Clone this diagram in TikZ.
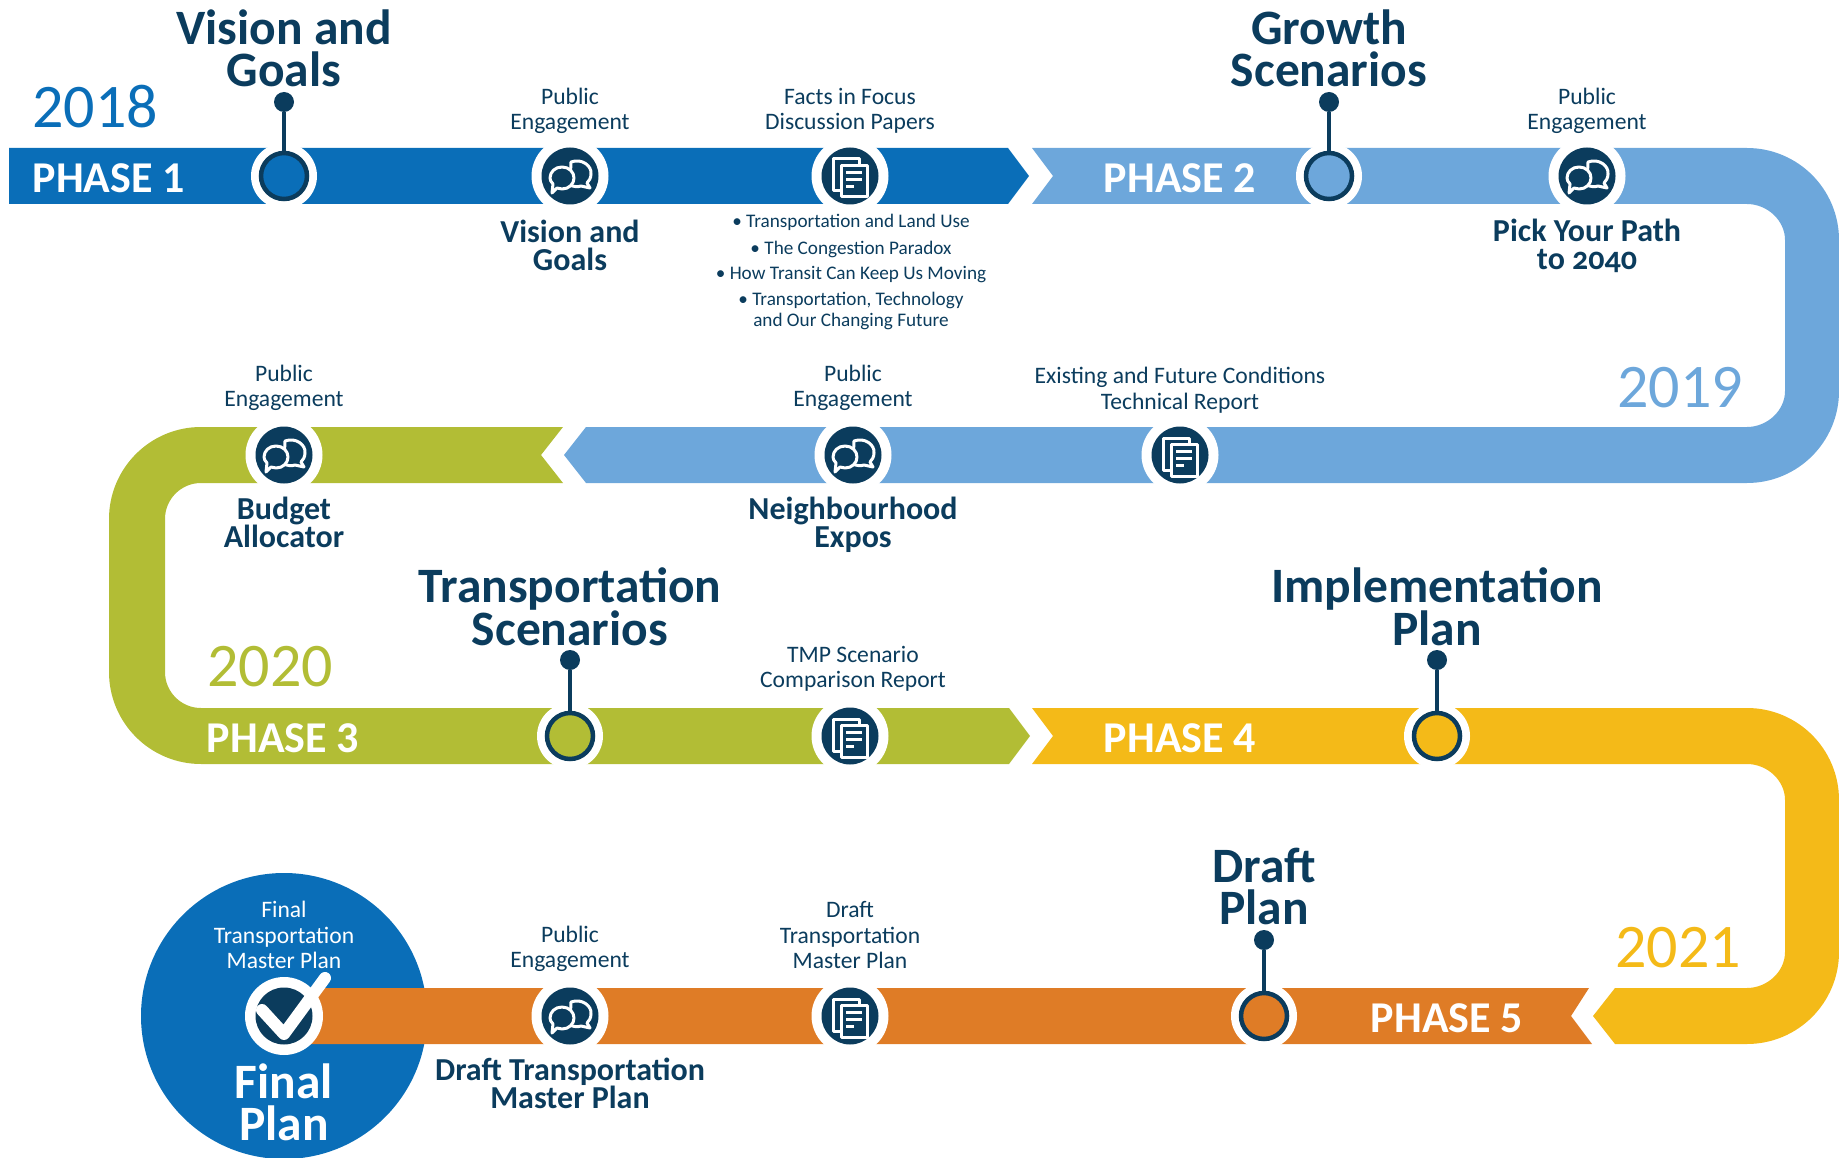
\documentclass[tikz,border=0pt]{standalone}
\usepackage{fontspec}
\setmainfont{Carlito}
\newfontfamily\oldnum[Numbers=OldStyle]{Carlito}
\definecolor{cdark}{HTML}{0B3C5D}
\definecolor{cblue}{HTML}{0A6EB8}
\definecolor{clight}{HTML}{6DA7DB}
\definecolor{cgreen}{HTML}{B2BD35}
\definecolor{cyellow}{HTML}{F4BA18}
\definecolor{corange}{HTML}{DF7C26}
\tikzset{
  lab/.style={inner sep=0pt,align=center,text=cdark},
  headlab/.style={lab,font=\fontsize{49.5}{42}\selectfont\bfseries},
  sublab/.style={lab,font=\fontsize{32}{28}\selectfont\bfseries},
  smalllab/.style={lab,font=\fontsize{23.6}{25.5}\selectfont},
  listlab/.style={lab,font=\fontsize{19.2}{21}\selectfont},
  yearlab/.style={inner sep=0pt,font=\fontsize{62}{62}\selectfont},
  phaselab/.style={inner sep=0pt,text=white,font=\fontsize{44}{44}\selectfont\bfseries},
  halo/.style={circle,fill=white,minimum size=#1,inner sep=0pt},
  pin/.style={circle,draw=cdark,line width=4.5pt,fill=#1,minimum size=46pt,inner sep=0pt},
  iconbg/.style={circle,fill=cdark,minimum size=57pt,inner sep=0pt},
  ball/.style={circle,fill=cdark,minimum size=20pt,inner sep=0pt},
  stem/.style={draw=cdark,line width=4.5pt},
  glyph/.style={draw=white,line width=3pt,line join=round},
  pics/talkglyph/.style={code={
    \draw[glyph,fill=cdark] (1,-14) .. controls (12,-18) and (22,-10) .. (21,-2)
      .. controls (21,2) and (19,5) .. (17,7) -- (20,12) -- (11,10) .. controls (8,11) and (4,11) .. (0,9) -- cycle;
    \draw[glyph,fill=cdark] (-8,-9) .. controls (-1,-9) and (4,-4) .. (4,2)
      .. controls (4,8) and (-1,13) .. (-8,13) .. controls (-10,13) and (-11,13) .. (-13,12)
      -- (-18,17) -- (-17,8) .. controls (-19,6) and (-20,4) .. (-20,2) .. controls (-20,-4) and (-15,-9) .. (-8,-9) -- cycle;
  }},
  pics/docglyph/.style={code={
    \draw[glyph] (-16.5,-17) rectangle (9,15);
    \draw[glyph,fill=cdark] (-9,-10.5) rectangle (17,21);
    \draw[glyph,line width=3pt] (-4,-3.5) -- (12,-3.5);
    \draw[glyph,line width=3pt] (-4,3.5) -- (12,3.5);
    \draw[glyph,line width=3pt] (-4,10.5) -- (4,10.5);
  }},
}
\begin{document}
\begin{tikzpicture}[x=1pt,y=-1pt]
\useasboundingbox (0,0) rectangle (1839,1158);
% Bands
\fill[cblue] (9,148) -- (1008,148) -- (1029,176) -- (1008,204) -- (9,204) -- cycle;
\fill[clight] (1032,148) -- (1747,148) .. controls (1797.8,148) and (1839,189.2) .. (1839,240)
  -- (1839,391) .. controls (1839,441.8) and (1797.8,483) .. (1747,483) -- (586,483) -- (564,455) -- (586,427)
  -- (1747,427) .. controls (1766.9,427) and (1785,410.9) .. (1785,391) -- (1785,240)
  .. controls (1785,220.1) and (1766.9,204) .. (1747,204) -- (1032,204) -- (1053,176) -- cycle;
\fill[cgreen] (563,427) -- (201,427) .. controls (150.2,427) and (109,468.2) .. (109,519)
  -- (109,672) .. controls (109,722.8) and (150.2,764) .. (201,764) -- (1009,764) -- (1030,736) -- (1009,708)
  -- (201,708) .. controls (181.1,708) and (165,691.9) .. (165,672) -- (165,519)
  .. controls (165,499.1) and (181.1,483) .. (201,483) -- (563,483) -- (541,455) -- cycle;
\fill[cyellow] (1032,708) -- (1747,708) .. controls (1797.8,708) and (1839,749.2) .. (1839,800)
  -- (1839,952) .. controls (1839,1002.8) and (1797.8,1044) .. (1747,1044) -- (1615,1044) -- (1593,1016) -- (1615,988)
  -- (1747,988) .. controls (1766.9,988) and (1785,971.9) .. (1785,952) -- (1785,800)
  .. controls (1785,780.1) and (1766.9,764) .. (1747,764) -- (1032,764) -- (1053,736) -- cycle;
\node[circle,fill=cblue,minimum size=286pt,inner sep=0pt] (finalDisc) at (284,1016) {};
\fill[corange] (284,988) -- (1589,988) -- (1571,1016) -- (1592,1044) -- (284,1044) -- cycle;
% Halos
\foreach \n/\xx/\yy/\s in {h1/284/176/66,h2/570/176/77,h3/850/176/77,h4/1329/176/66,h5/1587/176/77,
  h6/284/455/77,h7/853/455/77,h8/1180/455/77,h9/570/736/66,h10/850/736/77,h11/1437/736/66,
  h12/284/1016/78,h13/570/1016/77,h14/850/1016/77,h15/1264/1016/66}
  \node[halo=\s pt] (\n) at (\xx,\yy) {};
% Pins
\node[pin=cblue] (pinA) at (284,176) {};
\node[ball] (ballA) at (284,102) {};
\draw[stem] (ballA) -- (pinA);
\node[pin=clight] (pinB) at (1329,176) {};
\node[ball] (ballB) at (1329,102) {};
\draw[stem] (ballB) -- (pinB);
\node[pin=cgreen] (pinC) at (570,736) {};
\node[ball] (ballC) at (570,660) {};
\draw[stem] (ballC) -- (pinC);
\node[pin=cyellow] (pinD) at (1437,736) {};
\node[ball] (ballD) at (1437,660) {};
\draw[stem] (ballD) -- (pinD);
\node[pin=corange] (pinE) at (1264,1016) {};
\node[ball] (ballE) at (1264,940) {};
\draw[stem] (ballE) -- (pinE);
% Icons
\foreach \n/\xx/\yy in {t1/570/176,t2/1587/176,t3/284/455,t4/853/455,t5/570/1016}{
  \node[iconbg] (\n) at (\xx,\yy) {};
  \pic at (\n) {talkglyph};
}
\foreach \n/\xx/\yy in {d1/850/176,d2/1180/455,d3/850/736,d4/850/1016}{
  \node[iconbg] (\n) at (\xx,\yy) {};
  \pic at (\n) {docglyph};
}
\node[iconbg] (chk) at (284,1016) {};
\draw[white,line width=12pt,line cap=round,line join=round] (262,1010) -- (284,1034) -- (325,978);
% Headings
\node[headlab] (hV) at (284,48) {Vision and\\Goals};
\node[headlab] (hG) at (1329,48) {Growth\\Scenarios};
\node[headlab] (hT) at (570,607) {Transportation\\Scenarios};
\node[headlab] (hI) at (1437,607) {Implementation\\Plan};
\node[headlab] (hD) at (1264,886) {Draft\\Plan};
\node[headlab,text=white] (hF) at (284,1102) {Final\\Plan};
% Small labels
\node[smalllab] (s1) at (570,111) {Public\\Engagement};
\node[smalllab] (s2) at (850,111) {Facts in Focus\\Discussion Papers};
\node[smalllab] (s3) at (1587,111) {Public\\Engagement};
\node[smalllab] (s4) at (284,388) {Public\\Engagement};
\node[smalllab] (s5) at (853,388) {Public\\Engagement};
\node[smalllab] (s6) at (1180,390) {Existing and Future Conditions\\Technical Report};
\node[smalllab] (s7) at (853,669) {TMP Scenario\\Comparison Report};
\node[smalllab] (s8) at (570,949) {Public\\Engagement};
\node[smalllab] (s9) at (850,935) {Draft\\Transportation\\Master Plan};
\node[smalllab,text=white] (s10) at (284,935) {Final\\Transportation\\Master Plan};
% Bold sub labels
\node[sublab] (b1) at (570,245) {Vision and\\Goals};
\node[sublab] (b2) at (1587,246) {Pick Your Path\\to {\oldnum 2040}};
\node[sublab] (b3) at (284,522) {Budget\\Allocator};
\node[sublab] (b4) at (853,525) {Neighbourhood\\Expos};
\node[sublab] (b5) at (570,1083) {Draft Transportation\\Master Plan};
% List
\node[listlab,anchor=north] (l1) at (851,214) {• Transportation and Land Use\\[5.5pt]
  • The Congestion Paradox\\[4.5pt]
  • How Transit Can Keep Us Moving\\[4.5pt]
  • Transportation, Technology\\
  and Our Changing Future};
% Years
\node[yearlab,text=cblue] (y1) at (95,107) {2018};
\node[yearlab,text=clight] (y2) at (1680,388) {2019};
\node[yearlab,text=cgreen] (y3) at (270,667) {2020};
\node[yearlab,text=cyellow] (y4) at (1678,948) {2021};
% Phases
\node[phaselab] (p1) at (109,178) {PHASE 1};
\node[phaselab] (p2) at (1180,178) {PHASE 2};
\node[phaselab] (p3) at (283,738) {PHASE 3};
\node[phaselab] (p4) at (1180,738) {PHASE 4};
\node[phaselab] (p5) at (1447,1018) {PHASE 5};
\end{tikzpicture}
\end{document}
